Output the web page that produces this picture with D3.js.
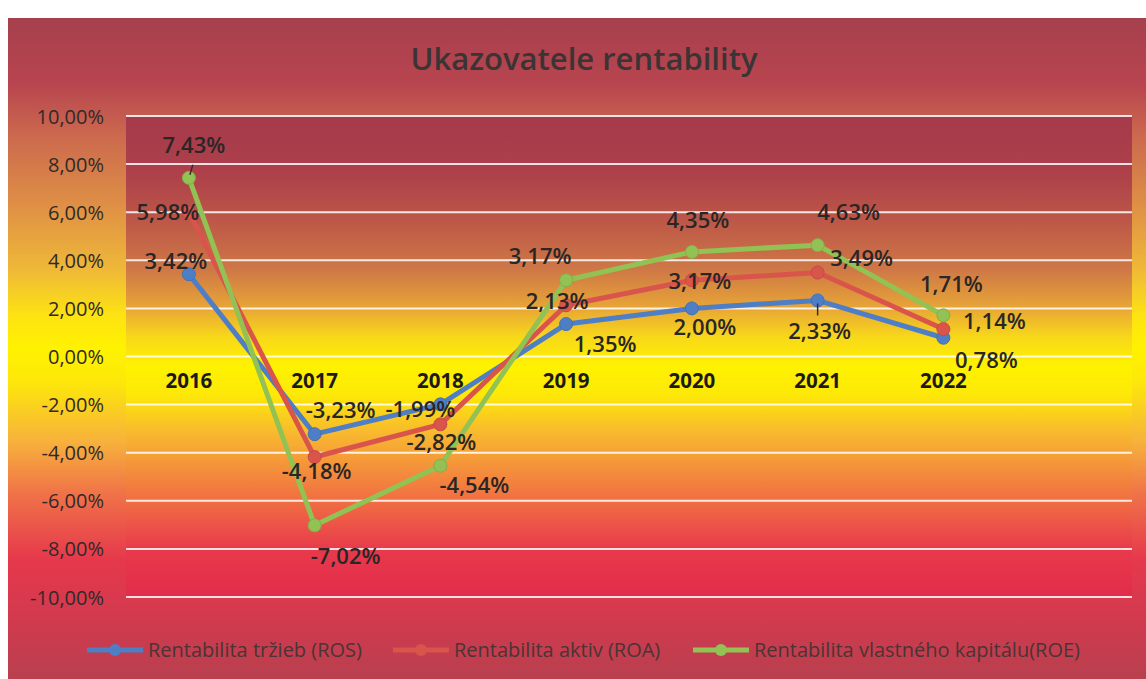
<!DOCTYPE html>
<html>
<head>
<meta charset="utf-8">
<script src="https://cdn.jsdelivr.net/npm/d3@7"></script>
<style>
  html, body { margin: 0; padding: 0; background: #ffffff; }
  svg { display: block; }
</style>
</head>
<body>
<svg id="chart" width="1146" height="679"></svg>
<script>
// ---- DATA ----
const categories = ["2016", "2017", "2018", "2019", "2020", "2021", "2022", ""];
const seriesNames = ["Rentabilita tržieb (ROS)", "Rentabilita aktiv (ROA)", "Rentabilita vlastného kapitálu(ROE)"];
const rosValues = [3.42, -3.23, -1.99, 1.35, 2.00, 2.33, 0.78];
const roaValues = [5.98, -4.18, -2.82, 2.13, 3.17, 3.49, 1.14];
const roeValues = [7.43, -7.02, -4.54, 3.17, 4.35, 4.63, 1.71];
const yTicks = [10, 8, 6, 4, 2, 0, -2, -4, -6, -8, -10];
const titleText = "Ukazovatele rentability";

// ---- LAYOUT (label offsets in px relative to each point) ----
const rosLabelOffsets = [[-13, -5], [26, -16], [-20, 13], [39, 28], [13, 27], [2, 39], [43, 30]];
const roaLabelOffsets = [[-21, 7], [2, 22], [1, 26], [-9, 4], [8, 9], [44, -7], [51, 0]];
const roeLabelOffsets = [[5, -25], [31, 39], [34, 27], [-26, -16], [6, -24], [31, -25], [8, -23]];

const colors = ["#4d7ec6", "#d9554c", "#92c254"];

const svg = d3.select("#chart");
const W = 1146, H = 679;
const chart = { x: 8, y: 18, w: W - 8, h: H - 18 };
const plot = { x0: 126, x1: 1132, y0: 116, y1: 597 };

// ---- gradients ----
const defs = svg.append("defs");
const gChart = defs.append("linearGradient").attr("id", "gChart")
  .attr("gradientUnits", "userSpaceOnUse").attr("x1", 0).attr("x2", 0).attr("y1", chart.y).attr("y2", H);
[[0, "#a6404d"], [0.1, "#b8454f"], [0.18, "#cc6a4e"], [0.28, "#de8e46"], [0.38, "#efb838"],
 [0.45, "#fde312"], [0.5, "#fff200"], [0.55, "#fde80a"], [0.64, "#f7b23c"], [0.72, "#f07248"],
 [0.82, "#e6384c"], [0.92, "#cf3a4e"], [1, "#b8404e"]].forEach(([o, c]) =>
  gChart.append("stop").attr("offset", o).attr("stop-color", c));

const gPlot = defs.append("linearGradient").attr("id", "gPlot")
  .attr("gradientUnits", "userSpaceOnUse").attr("x1", 0).attr("x2", 0).attr("y1", plot.y0).attr("y2", plot.y1);
[[0, "#a53a4a"], [0.12, "#ad404a"], [0.22, "#bd5848"], [0.32, "#cf7846"], [0.4, "#e8a636"],
 [0.46, "#f8d81a"], [0.52, "#fff200"], [0.58, "#fde808"], [0.66, "#f8b830"], [0.74, "#f48c3c"],
 [0.82, "#ef6444"], [0.9, "#e83a4c"], [1, "#e22c4a"]].forEach(([o, c]) =>
  gPlot.append("stop").attr("offset", o).attr("stop-color", c));

svg.append("rect").attr("x", chart.x).attr("y", chart.y).attr("width", chart.w).attr("height", chart.h)
  .attr("fill", "url(#gChart)");
svg.append("rect").attr("x", plot.x0).attr("y", plot.y0).attr("width", plot.x1 - plot.x0).attr("height", plot.y1 - plot.y0)
  .attr("fill", "url(#gPlot)");

// ---- scales ----
const x = d3.scaleBand().domain(categories).range([plot.x0, plot.x1]).padding(0);
const cx = d => x(d) + x.bandwidth() / 2;
const y = d3.scaleLinear().domain([-10, 10]).range([plot.y1, plot.y0]);

// gridlines
svg.append("g").selectAll("line").data(yTicks).join("line")
  .attr("x1", plot.x0).attr("x2", plot.x1)
  .attr("y1", d => y(d)).attr("y2", d => y(d))
  .attr("stroke", "#ffffff").attr("stroke-opacity", 0.85).attr("stroke-width", 2);

const fmt = v => d3.format(".2f")(v).replace("−", "-").replace(".", ",") + "%";

// y axis labels
const yAxis = d3.axisLeft(y).tickValues(yTicks).tickFormat(fmt).tickSize(0).tickPadding(0);
const ya = svg.append("g").attr("transform", `translate(104,0)`).call(yAxis);
ya.select(".domain").remove();
ya.selectAll("text").attr("font-family", "'Open Sans', sans-serif").attr("font-size", 20)
  .attr("fill", "#2f2a2a").attr("dy", "0.35em");

// category labels
const xAxis = d3.axisBottom(x).tickSize(0).tickPadding(0);
const xa = svg.append("g").attr("transform", `translate(0,${y(0) + 24})`).call(xAxis);
xa.select(".domain").remove();
xa.selectAll("text").attr("font-family", "'Open Sans', sans-serif").attr("font-size", 20.5)
  .attr("font-weight", "bold").attr("fill", "#1c1a1a").attr("dy", "0.35em");

// ---- series ----
const series = [
  { name: seriesNames[0], values: rosValues, color: colors[0], offs: rosLabelOffsets },
  { name: seriesNames[1], values: roaValues, color: colors[1], offs: roaLabelOffsets },
  { name: seriesNames[2], values: roeValues, color: colors[2], offs: roeLabelOffsets }
];
const line = d3.line().x((d, i) => cx(categories[i])).y(d => y(d));

series.forEach(s => {
  svg.append("path").datum(s.values).attr("d", line)
    .attr("fill", "none").attr("stroke", s.color).attr("stroke-width", 5)
    .attr("stroke-linejoin", "round");
});
series.forEach(s => {
  svg.append("g").selectAll("circle").data(s.values).join("circle")
    .attr("cx", (d, i) => cx(categories[i])).attr("cy", d => y(d)).attr("r", 6.5)
    .attr("fill", s.color).attr("stroke", d3.color(s.color).darker(0.3)).attr("stroke-width", 1);
});

// leader lines (short) for two labels
svg.append("line").attr("x1", cx(categories[0]) + 4).attr("y1", y(roeValues[0]) - 13)
  .attr("x2", cx(categories[0]) + 1).attr("y2", y(roeValues[0]) - 3)
  .attr("stroke", "#3a2a2a").attr("stroke-width", 1.5);
svg.append("line").attr("x1", cx(categories[5])).attr("y1", y(rosValues[5]) + 3)
  .attr("x2", cx(categories[5])).attr("y2", y(rosValues[5]) + 15)
  .attr("stroke", "#3a2a2a").attr("stroke-width", 1.5);

// data labels
series.forEach(s => {
  svg.append("g").selectAll("text").data(s.values).join("text")
    .attr("x", (d, i) => cx(categories[i]) + s.offs[i][0])
    .attr("y", (d, i) => y(d) + s.offs[i][1])
    .attr("text-anchor", "middle")
    .attr("font-family", "'Open Sans', sans-serif").attr("font-size", 22).attr("font-weight", 600)
    .attr("fill", "#2a2626")
    .text(d => fmt(d));
});

// title
svg.append("text").attr("x", 584).attr("y", 70).attr("text-anchor", "middle")
  .attr("font-family", "'Open Sans', sans-serif").attr("font-size", 31).attr("font-weight", 600)
  .attr("fill", "#3a3434").text(titleText);

// legend
const legend = svg.append("g");
const legY = 650;
const legStarts = [87, 393, 693];
series.forEach((s, i) => {
  const g = legend.append("g").attr("transform", `translate(${legStarts[i]},${legY})`);
  g.append("line").attr("x1", 0).attr("x2", 56).attr("y1", 0).attr("y2", 0)
    .attr("stroke", s.color).attr("stroke-width", 5);
  g.append("circle").attr("cx", 28).attr("cy", 0).attr("r", 6).attr("fill", s.color);
  g.append("text").attr("x", 61).attr("y", 0).attr("dy", "0.35em")
    .attr("font-family", "'Open Sans', sans-serif").attr("font-size", 20)
    .attr("fill", "#4a3434").text(s.name);
});
</script>
</body>
</html>
